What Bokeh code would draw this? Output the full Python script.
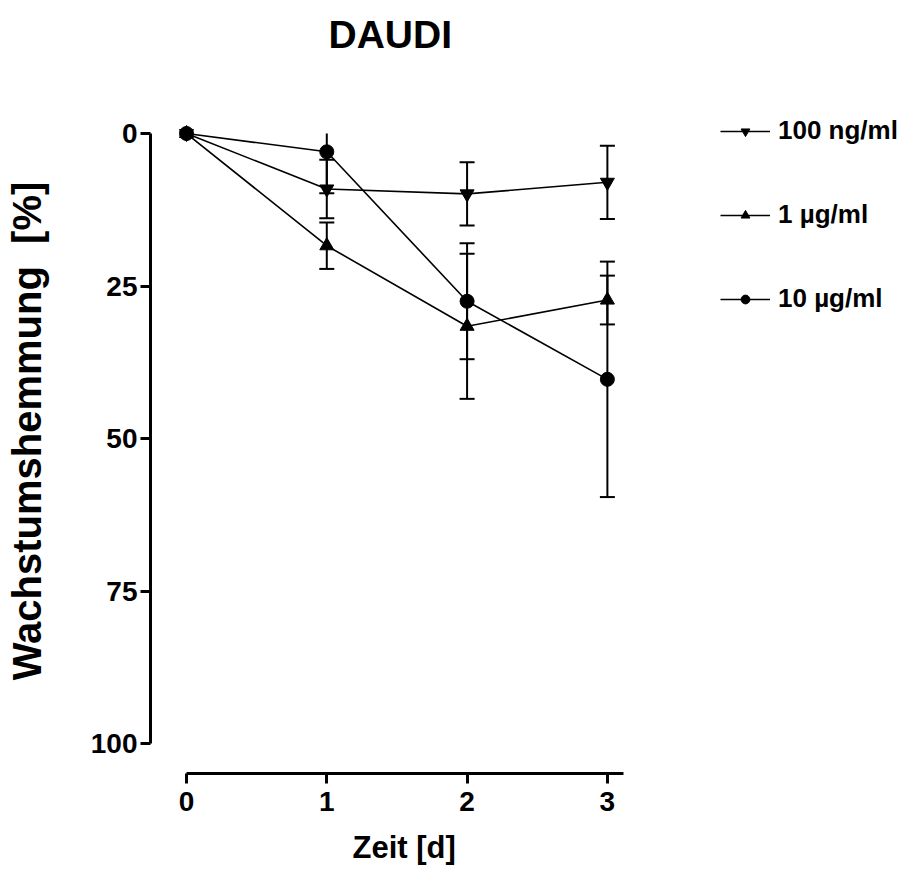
from bokeh.embed import file_html
from bokeh.models import (ColumnDataSource, FixedTicker, Legend, LegendItem, LinearAxis,
                          Range1d, Title)
from bokeh.plotting import figure
from bokeh.resources import INLINE

# Growth inhibition of DAUDI cells over time, mean and error per concentration
days = [0, 1, 2, 3]
series_names = ["100 ng/ml", "1 µg/ml", "10 µg/ml"]
series_markers = ["inverted_triangle", "triangle", "circle"]

mean_100ng = [0.0, 9.1, 9.9, 8.0]
err_100ng = [0.0, 4.8, 5.2, 6.0]
mean_1ug = [0.0, 18.4, 31.6, 27.3]
err_1ug = [0.0, 3.8, 11.9, 4.0]
mean_10ug = [0.0, 3.0, 27.5, 40.3]
err_10ug = [0.0, 6.8, 9.5, 19.3]

y_ticks = [0, 25, 50, 75, 100]
x_ticks = [0, 1, 2, 3]
y_bounds = (0, 100)
x_bounds = (0, 3.115)

FONT = "Liberation Sans"

# frame: x from -0.057 (left edge) to the right border of the page, so that the
# legend fits inside it; y inverted with 0 % near the top
p = figure(
    width=913, height=888,
    x_range=Range1d(-0.057, 5.182),
    y_range=Range1d(100, -2.46),
    x_axis_location=None, y_axis_location=None, title_location=None,
    output_backend="svg", toolbar_location=None,
    min_border_left=178, min_border_right=0,
    min_border_top=118, min_border_bottom=145,
)
p.xgrid.visible = False
p.ygrid.visible = False
p.outline_line_color = None
p.background_fill_color = "white"
p.border_fill_color = "white"


def spacer_axis(gap, at):
    # blank axis (one hairline white tick, no label) that keeps a gap
    # between the frame and the next item of the same side
    return LinearAxis(ticker=FixedTicker(ticks=[at]), axis_line_color=None,
                      major_tick_in=0, major_tick_out=gap,
                      major_tick_line_color="white", major_tick_line_width=0.01,
                      minor_tick_line_color=None, minor_tick_out=0,
                      major_label_standoff=0, major_label_text_font_size="0px",
                      major_label_overrides={at: ""})


def styled_axis(ticks, bounds, tick_standoff):
    ax = LinearAxis(ticker=FixedTicker(ticks=ticks), bounds=bounds)
    ax.axis_line_width = 3
    ax.axis_line_color = "black"
    ax.major_tick_line_width = 3
    ax.major_tick_line_color = "black"
    ax.minor_tick_line_color = None
    ax.major_tick_in = 0
    ax.major_tick_out = 10
    ax.major_label_standoff = tick_standoff
    ax.major_label_text_font = FONT
    ax.major_label_text_font_style = "bold"
    ax.major_label_text_font_size = "28px"
    ax.major_label_text_color = "black"
    return ax


yaxis = styled_axis(y_ticks, y_bounds, 3)
yaxis.axis_label = "Wachstumshemmung \u00a0[%]"
yaxis.axis_label_standoff = 39
yaxis.axis_label_text_font = FONT
yaxis.axis_label_text_font_style = "bold"
yaxis.axis_label_text_font_size = "40px"
yaxis.axis_label_text_color = "black"

xaxis = styled_axis(x_ticks, x_bounds, 8)

p.add_layout(spacer_axis(28, 50), "left")
p.add_layout(yaxis, "left")
p.add_layout(spacer_axis(30, 1), "below")
p.add_layout(xaxis, "below")
p.add_layout(Title(text="Zeit [d]", align="left", offset=174, standoff=28,
                   vertical_align="bottom", text_font=FONT, text_font_style="bold",
                   text_font_size="31px", text_color="black"), "below")

p.add_layout(spacer_axis(63, 1), "above")
p.add_layout(Title(text="DAUDI", align="left", offset=150, standoff=0,
                   text_font=FONT, text_font_style="bold",
                   text_font_size="39px", text_color="black"), "above")

means = [mean_100ng, mean_1ug, mean_10ug]
errs = [err_100ng, err_1ug, err_10ug]

items = []
for name, marker, mean, err in zip(series_names, series_markers, means, errs):
    src = ColumnDataSource(dict(x=days, y=mean))
    ln = p.line("x", "y", source=src, line_color="black", line_width=1.6)

    # error bars, cut at the axis limits; a cap only where the bar ends freely
    ex, lo, hi, cx, cy = [], [], [], [], []
    for d, m, e in zip(days, mean, err):
        if e <= 0:
            continue
        a, b = m - e, m + e
        ex.append(d)
        lo.append(max(a, y_bounds[0]))
        hi.append(min(b, y_bounds[1]))
        for end in (a, b):
            if y_bounds[0] <= end <= y_bounds[1]:
                cx.append(d)
                cy.append(end)
    p.segment(x0="x", y0="lo", x1="x", y1="hi",
              source=ColumnDataSource(dict(x=ex, lo=lo, hi=hi)),
              line_color="black", line_width=2)
    p.scatter("x", "y", source=ColumnDataSource(dict(x=cx, y=cy)),
              marker="dash", size=15, line_color="black", line_width=2)

    pts = p.scatter("x", "y", source=src, marker=marker, size=14,
                    fill_color="black", line_color="black")
    items.append(LegendItem(label=name, renderers=[ln, pts]))

legend = Legend(
    items=items, location=(542, 429), orientation="vertical",
    glyph_width=50, glyph_height=22, label_height=30, spacing=53,
    label_standoff=8, padding=0, margin=0,
    border_line_color=None, background_fill_alpha=0,
    label_text_font=FONT, label_text_font_style="bold",
    label_text_font_size="26px", label_text_color="black",
)
p.add_layout(legend)

open("out.html", "w").write(file_html(p, INLINE))
